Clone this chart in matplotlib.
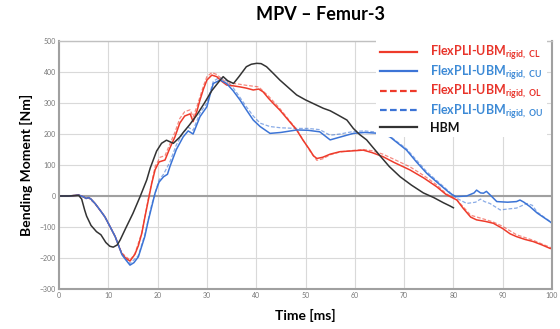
import numpy as np
import matplotlib
matplotlib.use("Agg")
import matplotlib.pyplot as plt

plt.rcParams['font.family'] = ['Lato', 'DejaVu Sans']
plt.rcParams['mathtext.fontset'] = 'custom'
plt.rcParams['mathtext.rm'] = 'Lato:bold'
plt.rcParams['mathtext.it'] = 'Lato:bold'
plt.rcParams['mathtext.bf'] = 'Lato:bold'

# HBM
hbm_t = [0, 2, 4, 4.6, 5.2, 5.6, 6.5, 7.6, 8.5, 9.5, 10.3, 11, 11.8, 12.4, 13.5, 15, 16.5,
         17.8, 18.5, 19.8, 20.8, 21.8, 23.2, 24.5, 25.2, 26.5, 27.9, 29.5, 31, 32.5, 33.3,
         34.2, 35.4, 36.5, 38, 39, 40.1, 41, 42.1, 43.5, 44.8, 46.5, 48.2, 50, 52, 53.6, 55,
         56.5, 58.4, 59.7, 61, 62.4, 63.5, 65.1, 67, 69.2, 71.5, 73.9, 76, 78, 79.3, 80]
hbm_v = [0, 0, 2, -10, -45, -65, -95, -115, -125, -150, -162, -165, -158, -142, -105, -56, 0,
         52, 90, 145, 170, 180, 170, 190, 205, 230, 260, 300, 340, 370, 385,
         372, 363, 385, 417, 425, 428, 427, 417, 395, 374, 350, 326, 310, 295, 283, 275,
         262, 245, 218, 198, 181, 160, 130, 95, 62, 35, 10, -5, -22, -32, -38]

# FlexPLI-UBM rigid, CL
cl_t = [0, 2, 4, 5, 5.5, 6, 6.5, 7.3, 8.3, 9.3, 10.3, 11.4, 12.2, 12.7, 13.5, 14.4, 15.4,
        16.1, 16.8, 17.4, 18.1, 18.8, 19.5, 20.3, 21.5, 22.5, 23.5, 24.5, 25.5, 26.6, 27.2,
        28, 28.6, 29.3, 30, 31, 32, 33, 34, 35.5, 36.7, 38, 39.4, 40.5, 41.4, 42.5, 43.5,
        44.8, 46.5, 48.2, 49.5, 50.9, 51.6, 52.3, 53.5, 55, 57, 59, 61.7, 63.5, 65.7, 68,
        71.2, 74, 76.6, 78.5, 80.7, 82, 83.5, 84.7, 86.5, 88.1, 90, 91.5, 92.8, 94.5, 96.2,
        98, 99.6, 100]
cl_v = [0, 0, 3, -3, -8, -5, -10, -24, -45, -67, -97, -131, -165, -185, -200, -210, -188,
        -160, -120, -70, -15, 40, 85, 110, 116, 155, 190, 235, 258, 265, 240,
        275, 310, 345, 374, 390, 385, 370, 358, 355, 352, 348, 342, 345, 336, 315, 298,
        277, 245, 213, 180, 148, 130, 121, 125, 135, 143, 145, 148, 140, 127, 108,
        84, 58, 30, 5, -13, -40, -68, -77, -82, -88, -105, -122, -131, -140, -147,
        -158, -169, -170]

# FlexPLI-UBM rigid, CU
cu_t = [0, 2, 4, 5, 5.5, 6, 6.5, 7.3, 8.3, 9.3, 10.3, 11.4, 12.2, 12.8, 13.5, 14.4, 15.2,
        16.1, 17.4, 18.1, 18.8, 19.5, 20.3, 21.2, 22, 22.5, 23.8, 25.2, 26.2, 27.2, 28.6,
        30, 30.7, 31.3, 32.7, 34, 35.3, 36.7, 38, 39.4, 40.8, 42.8, 45, 48.2, 50.5, 52.9,
        55, 57, 59.7, 62, 65.1, 67.1, 70.5, 72.5, 74.6, 77, 79.3, 80.5, 82.7, 84.2, 84.7,
        85.5, 86.1, 86.7, 87.8, 88.8, 91, 92.8, 93.5, 94.3, 95.5, 97, 99.6, 100]
cu_v = [0, 0, 3, -3, -8, -5, -10, -24, -45, -67, -97, -131, -165, -190, -205, -223, -215,
        -196, -131, -80, -35, 10, 45, 62, 70, 95, 150, 191, 210, 200, 256,
        288, 330, 363, 374, 363, 340, 310, 278, 245, 224, 202, 205, 213, 212, 207,
        181, 190, 202, 205, 202, 191, 148, 110, 73, 40, 9, -2, 0, 10, 19,
        10, 9, 15, -2, -18, -20, -18, -13, -20, -34, -55, -83, -88]

# FlexPLI-UBM rigid, OL
ol_t = [0, 2, 4, 5, 6, 7.3, 9.3, 11.4, 12.7, 14.4, 15.4, 16.8, 18.1, 19.5, 20.5, 21.5,
        22.5, 23.5, 24.5, 25.5, 26.6, 27.2, 28, 29.3, 30, 31, 32, 33, 34, 36, 38, 40.5,
        42.5, 44.8, 46.5, 48.2, 50.9, 52.3, 53.5, 55, 57, 59, 61.7, 63.5, 65.7, 68, 71.2,
        74, 76.6, 78.5, 80.7, 83.5, 86.5, 88.1, 90, 92.8, 96.2, 98, 100]
ol_v = [0, 0, 3, -3, -6, -24, -67, -131, -183, -207, -186, -118, -10, 95, 125, 130,
        168, 205, 250, 272, 278, 255, 290, 355, 385, 398, 392, 378, 365, 362, 357, 352,
        322, 282, 248, 215, 145, 115, 120, 133, 142, 146, 150, 146, 135, 118, 94,
        66, 36, 8, -12, -62, -76, -84, -98, -125, -143, -155, -168]

# FlexPLI-UBM rigid, OU
ou_t = [0, 2, 4, 5, 6, 7.3, 9.3, 11.4, 12.8, 14.4, 16.1, 17.4, 18.8, 20.3, 21.2, 22.5,
        23.8, 25.2, 26.2, 27.2, 28.6, 30, 31.3, 32.5, 34, 35.3, 36.7, 38, 39.4, 40.8, 42.8,
        45, 48.2, 50.5, 52.9, 55, 57, 59.7, 62, 65.1, 67.1, 70.5, 74.6, 79.3, 80.5, 82.7,
        84.5, 85.5, 86.3, 87.4, 89.5, 91, 92.8, 94.9, 96, 97, 99.6, 100]
ou_v = [0, 0, 3, -3, -6, -24, -67, -131, -188, -218, -192, -125, -28, 52, 70, 110,
        165, 205, 222, 212, 268, 300, 370, 382, 372, 350, 318, 288, 258, 235, 224,
        220, 218, 218, 214, 196, 200, 208, 210, 205, 193, 152, 78, 12, -6, -24,
        -20, -10, -18, -24, -45, -42, -39, -24, -30, -52, -82, -88]

red = '#EE3B2B'
blue = '#3C74D6'
black = '#333333'

fig = plt.figure(figsize=(5.6, 3.29), dpi=100)
ax = fig.add_axes([59 / 560, 1 - 289 / 329, 493 / 560, 248 / 329])

ax.plot(ol_t, ol_v, color=red, lw=0.9, ls=(0, (3, 1.5)), alpha=0.6, label='FlexPLI-UBM$_{rigid,\\ OL}$')
ax.plot(ou_t, ou_v, color=blue, lw=0.9, ls=(0, (3, 1.5)), alpha=0.6, label='FlexPLI-UBM$_{rigid,\\ OU}$')
ax.plot(cl_t, cl_v, color=red, lw=1.1, label='FlexPLI-UBM$_{rigid,\\ CL}$')
ax.plot(cu_t, cu_v, color=blue, lw=1.1, label='FlexPLI-UBM$_{rigid,\\ CU}$')
ax.plot(hbm_t, hbm_v, color=black, lw=1.1, label='HBM')

ax.set_xlim(0, 100)
ax.set_ylim(-300, 500)
ax.set_xticks(np.arange(0, 101, 10))
ax.set_yticks(np.arange(-300, 501, 100))
ax.grid(color='#d9d9d9', lw=0.8)
ax.set_axisbelow(True)
ax.axhline(0, color='#a0a0a0', lw=1.5, zorder=1)
for side in ['left', 'bottom', 'right']:
    ax.spines[side].set_color('#a0a0a0')
    ax.spines[side].set_linewidth(1.5)
ax.spines['top'].set_color('#c0c0c0')
ax.spines['top'].set_linewidth(1.0)
ax.tick_params(length=0, labelsize=5, labelcolor='#777777', pad=2)

ax.set_xlabel('Time [ms]', fontsize=10, fontweight='bold', labelpad=7)
ax.set_ylabel('Bending Moment [Nm]', fontsize=10, fontweight='bold', labelpad=5)
fig.text(320 / 560, 1 - 14 / 329, 'MPV \u2013 Femur-3', ha='center', va='center',
         fontsize=13, fontweight='bold')

handles, labels = ax.get_legend_handles_labels()
order = [2, 3, 0, 1, 4]
text_colors = ['#E8342A', '#3C8AD6', '#E8342A', '#3C8AD6', '#111111']
leg = ax.legend([handles[i] for i in order], [labels[i] for i in order],
                loc='upper left', bbox_to_anchor=(376 / 560, 1 - 40 / 329),
                bbox_transform=fig.transFigure, frameon=True, fancybox=False,
                edgecolor='none', facecolor='white', framealpha=1,
                fontsize=9, handlelength=3.0, handletextpad=1.0, labelspacing=0.06,
                borderpad=0.3, borderaxespad=0)
for txt, c in zip(leg.get_texts(), text_colors):
    txt.set_fontweight('bold')
    txt.set_color(c)
for line in leg.get_lines():
    line.set_linewidth(1.6)
    line.set_alpha(1)
leg.set_zorder(10)

fig.savefig('out.png', dpi=100)
